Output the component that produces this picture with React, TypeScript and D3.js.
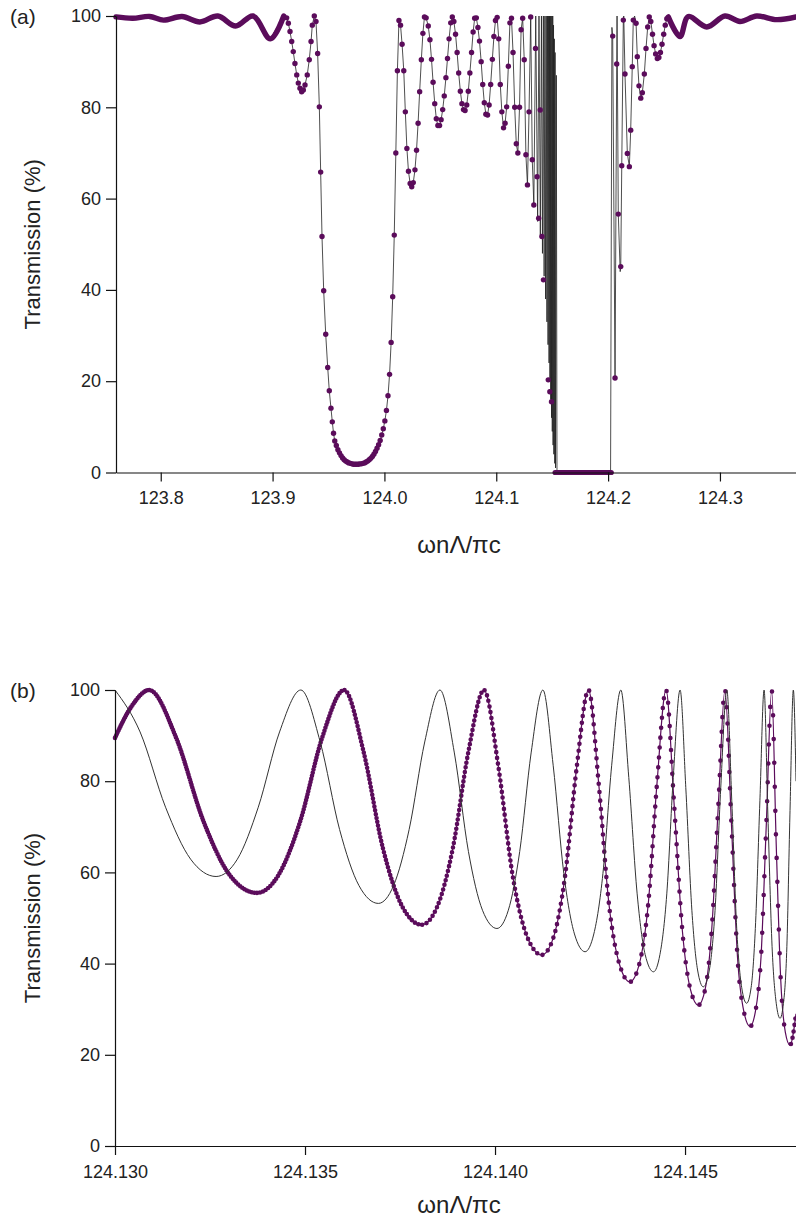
import { useEffect, useRef } from 'react';
import * as d3 from 'd3';

type Pt = [number, number];

const yTicks = [0, 20, 40, 60, 80, 100];
const aTicks = [123.8, 123.9, 124.0, 124.1, 124.2, 124.3];
const bTicks = [124.13, 124.135, 124.14, 124.145];

// (a) purple samples near 100 % on the left, so dense they read as one thick line
const aBandLeft: Pt[] = [
  [123.76, 99.8], [123.775, 99.5], [123.79, 99.9], [123.8025, 99.1], [123.819, 99.9],
  [123.835, 98.7], [123.851, 100], [123.867, 97.8], [123.8825, 100], [123.898, 95.0],
  [123.91, 100],
];

// (a) purple samples that show as separate dots
const aDots: Pt[] = [
  [123.9126, 99.6], [123.9141, 98.4], [123.9156, 96.6], [123.9171, 94.4], [123.9185, 92.2],
  [123.92, 89.6], [123.9216, 87.1], [123.923, 85.3], [123.9245, 84.2], [123.926, 83.4],
  [123.9275, 83.8], [123.929, 84.9], [123.931, 87.1], [123.9328, 90.4], [123.9344, 94.4],
  [123.9355, 98.0], [123.9373, 100], [123.9388, 98.8],
  [123.9403, 91.8], [123.9418, 80.1], [123.943, 65.8], [123.9442, 51.7], [123.9457, 39.8],
  [123.9475, 30.3], [123.9493, 23.0], [123.9507, 17.9], [123.9522, 14.1], [123.9534, 11.1],
  [123.9545, 8.6], [123.9556, 6.9], [123.957, 5.9], [123.9584, 5.0], [123.9598, 4.3],
  [123.9612, 3.7], [123.9626, 3.2], [123.964, 2.8], [123.9654, 2.5], [123.9668, 2.3],
  [123.9682, 2.1], [123.9696, 2.0], [123.971, 1.9], [123.9724, 1.8], [123.9738, 1.8],
  [123.9752, 1.8], [123.9766, 1.8], [123.978, 1.9], [123.9794, 1.9], [123.9808, 2.0],
  [123.9822, 2.1], [123.9836, 2.3], [123.985, 2.5], [123.9864, 2.8], [123.9878, 3.1],
  [123.9892, 3.5], [123.9906, 4.0], [123.992, 4.6], [123.9934, 5.3], [123.9948, 6.1],
  [123.9962, 7.0], [123.9976, 8.2], [123.999, 9.6],
  [124.0004, 11.3], [124.0018, 13.6], [124.0032, 16.8], [124.0046, 21.5], [124.006, 28.5],
  [124.0074, 38.5], [124.0088, 52.0], [124.0102, 70.0], [124.0116, 88.0], [124.013, 99.0],
  [124.0144, 98.0], [124.0158, 93.8], [124.0173, 88.0], [124.0187, 79.0], [124.0201, 71.0],
  [124.0215, 66.0], [124.023, 63.3], [124.0244, 62.6], [124.0258, 63.5], [124.0273, 66.3],
  [124.0287, 70.6], [124.0301, 76.5], [124.0315, 83.4], [124.033, 90.4], [124.0344, 96.2],
  [124.0358, 99.8], [124.0373, 99.6],
  [124.0392, 97.8], [124.0407, 94.8], [124.0421, 90.5], [124.0435, 85.5], [124.045, 80.8],
  [124.0464, 77.5], [124.0478, 76.0], [124.0493, 76.0], [124.0507, 77.3], [124.0521, 79.5],
  [124.0535, 82.5], [124.055, 86.5], [124.0564, 90.7], [124.0578, 95.0], [124.0593, 98.5],
  [124.0607, 99.8], [124.0621, 98.8], [124.0636, 96.0], [124.065, 92.0], [124.0664, 87.5],
  [124.0679, 83.5], [124.0693, 80.8], [124.0707, 79.5], [124.0721, 79.3], [124.0736, 80.5],
  [124.075, 83.5], [124.0764, 87.5], [124.0779, 92.0], [124.0793, 96.5], [124.0807, 99.5],
  [124.0822, 99.6], [124.0836, 97.5], [124.085, 94.5], [124.0865, 90.0], [124.0879, 85.0],
  [124.0893, 81.0], [124.0907, 78.5], [124.0922, 78.3], [124.0936, 80.5], [124.095, 85.0],
  [124.0965, 90.5], [124.0979, 95.5], [124.0993, 99.0], [124.1008, 99.7], [124.1022, 95.0],
  [124.1036, 85.0], [124.105, 79.0], [124.1065, 75.5], [124.1079, 76.5], [124.1093, 80.1],
  [124.1108, 89.0], [124.1122, 98.5], [124.1136, 99.5], [124.115, 92.0], [124.1165, 80.0],
  [124.1179, 72.0], [124.1193, 70.0], [124.1208, 80.0], [124.1222, 97.0], [124.1236, 99.5],
  [124.125, 90.4], [124.1265, 69.6], [124.1279, 63.0], [124.1293, 79.0], [124.1308, 99.8],
  [124.1322, 68.5], [124.1336, 58.6], [124.1351, 92.9], [124.1365, 64.8], [124.1379, 55.7],
  [124.1393, 79.4], [124.1408, 51.7], [124.1422, 42.2], [124.1465, 20.3], [124.1479, 17.7],
  [124.1494, 15.5],
  [124.2041, 95.6], [124.2062, 20.7], [124.2077, 89.5], [124.2091, 56.6], [124.2113, 45.1],
  [124.2122, 67.2], [124.2136, 99.1], [124.2151, 87.3], [124.2172, 69.9], [124.219, 67.0],
  [124.2202, 75.0], [124.2216, 88.9], [124.2225, 99.1], [124.225, 98.4], [124.2261, 91.1],
  [124.2276, 84.7], [124.2292, 82.0], [124.2306, 83.2], [124.2324, 87.3], [124.2339, 92.9],
  [124.2354, 97.6], [124.2368, 99.8], [124.2382, 98.8], [124.2397, 96.0], [124.2411, 93.5],
  [124.2425, 91.7], [124.244, 90.7], [124.2454, 90.9], [124.2468, 92.0], [124.2482, 93.8],
  [124.2497, 96.0], [124.2511, 98.0], [124.2525, 99.4],
];

// (a) purple samples lying on the zero line inside the stop band
const aZero: Pt[] = [[124.1526, 0], [124.2028, 0]];

// (a) purple samples near 100 % on the right
const aBandRight: Pt[] = [
  [124.2538, 99.8], [124.2643, 95.5], [124.2717, 99.9], [124.2882, 97.6], [124.3045, 100],
  [124.3179, 98.8], [124.3329, 100], [124.3508, 99.2], [124.368, 99.8],
];

// (a) black curve: extra points where it oscillates faster than the dots
const aBlackExtra: Pt[] = [
  [124.1353, 100], [124.137, 55], [124.1382, 100], [124.1394, 52], [124.1404, 100],
  [124.1413, 48], [124.1421, 100], [124.1428, 43], [124.1435, 100], [124.1441, 38],
  [124.1447, 100], [124.1453, 33], [124.1458, 100], [124.1463, 28], [124.1467, 100],
  [124.1472, 24], [124.1476, 100], [124.148, 20], [124.1483, 100], [124.1487, 16],
  [124.149, 100], [124.1494, 12], [124.1498, 100], [124.1501, 9], [124.1505, 100],
  [124.1508, 6], [124.1512, 98], [124.1515, 4], [124.1519, 95], [124.1523, 2],
  [124.1526, 92], [124.153, 1], [124.1537, 87], [124.1543, 0],
  [124.2022, 0], [124.2034, 97.5], [124.208, 100], [124.2108, 44], [124.214, 100],
  [124.2237, 100],
];

// (b) black curve
const bBlack: Pt[] = [
  [124.13, 100], [124.13066, 90.8], [124.13133, 74.3], [124.13199, 62.9], [124.13266, 59.1],
  [124.13322, 62.9], [124.13377, 74.3], [124.13433, 90.8], [124.13489, 100],
  [124.1354, 88.6], [124.13591, 69.4], [124.13642, 57.1], [124.13693, 53.2],
  [124.13733, 57.1], [124.13774, 69.4], [124.13815, 88.6], [124.13855, 100],
  [124.13893, 86.2], [124.1393, 64.6], [124.13967, 51.7], [124.14005, 47.7],
  [124.14035, 51.7], [124.14065, 64.6], [124.14095, 86.2], [124.14126, 100],
  [124.14153, 83.5], [124.14181, 59.8], [124.14209, 46.5], [124.14237, 42.6],
  [124.1426, 46.5], [124.14284, 59.8], [124.14307, 83.5], [124.14331, 100],
  [124.14352, 80.8], [124.14374, 55.3], [124.14395, 42.0], [124.14417, 38.2],
  [124.14434, 42.0], [124.14452, 55.3], [124.14469, 80.8], [124.14487, 100],
  [124.14502, 78.6], [124.14518, 51.7], [124.14533, 38.6], [124.14548, 34.9],
  [124.14564, 38.6], [124.14579, 51.7], [124.14594, 78.6], [124.1461, 100],
  [124.14623, 75.7], [124.14636, 47.7], [124.14649, 34.8], [124.14662, 31.3],
  [124.14674, 34.8], [124.14685, 47.7], [124.14697, 75.7], [124.14708, 100],
  [124.14718, 72.6], [124.14729, 43.8], [124.1474, 31.3], [124.1475, 28.0],
  [124.14759, 31.3], [124.14768, 43.8], [124.14776, 72.6], [124.14785, 100],
  [124.14792, 80],
];

// (b) purple dotted curve
const bPurple: Pt[] = [
  [124.13, 89.5], [124.13045, 96.6], [124.1309, 100],
  [124.13161, 89.5], [124.13232, 71.4], [124.13302, 59.4], [124.13373, 55.5],
  [124.1343, 59.4], [124.13488, 71.4], [124.13545, 89.5], [124.13603, 100],
  [124.13654, 86.5], [124.13705, 65.3], [124.13756, 52.5], [124.13807, 48.5],
  [124.13848, 52.5], [124.13889, 65.3], [124.1393, 86.5], [124.13971, 100],
  [124.14009, 83.1], [124.14047, 59.0], [124.14085, 45.8], [124.14123, 41.9],
  [124.14154, 45.8], [124.14184, 59.0], [124.14215, 83.1], [124.14246, 100],
  [124.14273, 79.3], [124.143, 52.9], [124.14328, 39.7], [124.14355, 36.0],
  [124.14379, 39.7], [124.14403, 52.9], [124.14426, 79.3], [124.1445, 100],
  [124.14471, 75.3], [124.14493, 47.2], [124.14514, 34.4], [124.14535, 30.9],
  [124.14553, 34.4], [124.1457, 47.2], [124.14588, 75.3], [124.14605, 100],
  [124.14622, 70.8], [124.14638, 41.5], [124.14655, 29.4], [124.14671, 26.2],
  [124.14685, 29.4], [124.147, 41.5], [124.14714, 70.8], [124.14728, 100],
  [124.1474, 66.0], [124.14752, 36.2], [124.14764, 24.9], [124.14776, 22.1],
  [124.14792, 29],
];

const PURPLE = '#5b0c5b';
const FONT = 'Liberation Sans, Arial, Helvetica, sans-serif';

export default function App() {
  const svgRef = useRef<SVGSVGElement>(null);

  useEffect(() => {
    const svg = d3.select(svgRef.current);
    svg.selectAll('*').remove();

    const xA = d3.scaleLinear().domain([123.76, 124.368]).range([116, 796]);
    const yA = d3.scaleLinear().domain([0, 100]).range([472.5, 16]);
    const xB = d3.scaleLinear().domain([124.13, 124.14792]).range([115, 796]);
    const yB = d3.scaleLinear().domain([0, 100]).range([1146, 690]);

    // axes, labels and titles for one panel
    const axes = (x: any, y: any, ticks: number[], fmt: string, tag: string, titleY: number) => {
      const y0 = y.range()[0];
      const y1 = y.range()[1];
      const x0 = x.range()[0];
      const gx = svg.append('g')
        .attr('transform', `translate(0,${y0})`)
        .call(d3.axisBottom(x).tickValues(ticks).tickFormat(d3.format(fmt) as any)
          .tickSize(9).tickSizeOuter(0).tickPadding(10));
      const gy = svg.append('g')
        .attr('transform', `translate(${x0},0)`)
        .call(d3.axisLeft(y).tickValues(yTicks).tickSize(10).tickSizeOuter(0).tickPadding(5));
      [gx, gy].forEach(g => {
        g.attr('font-size', 18).attr('font-family', FONT);
        g.selectAll('path, line').attr('stroke', '#111').attr('stroke-width', 1.2);
        g.selectAll('text').attr('fill', '#222');
      });

      svg.append('text')
        .attr('x', 459).attr('y', titleY)
        .attr('text-anchor', 'middle')
        .attr('font-family', FONT).attr('font-size', 24).attr('fill', '#222')
        .text('ωnΛ/πc');

      svg.append('text')
        .attr('transform', `translate(40,${(y0 + y1) / 2}) rotate(-90)`)
        .attr('text-anchor', 'middle')
        .attr('font-family', FONT).attr('font-size', 22).attr('fill', '#222')
        .text('Transmission (%)');

      svg.append('text')
        .attr('x', 10).attr('y', y1 + 8)
        .attr('font-family', FONT).attr('font-size', 21).attr('fill', '#222')
        .text(tag);
    };

    // ---------- panel (a) ----------
    const lineA = d3.line<Pt>().x(d => xA(d[0])).y(d => yA(d[1]));

    const blackA = [
      ...aBandLeft,
      ...aDots.filter(d => d[0] < 124.1345 || d[0] > 124.203),
      ...aBlackExtra,
      ...aBandRight,
    ].sort((p, q) => p[0] - q[0]);

    svg.append('path')
      .attr('d', lineA(blackA))
      .attr('fill', 'none')
      .attr('stroke', '#222')
      .attr('stroke-width', 0.8);

    [aBandLeft, aBandRight].forEach(band => {
      svg.append('path')
        .attr('d', lineA.curve(d3.curveCatmullRom)(band))
        .attr('fill', 'none')
        .attr('stroke', PURPLE)
        .attr('stroke-width', 5.4)
        .attr('stroke-linecap', 'round')
        .attr('stroke-linejoin', 'round');
    });
    lineA.curve(d3.curveLinear);

    svg.append('path')
      .attr('d', lineA(aZero))
      .attr('fill', 'none')
      .attr('stroke', PURPLE)
      .attr('stroke-width', 5.2)
      .attr('stroke-linecap', 'round');

    svg.append('g')
      .selectAll('circle')
      .data(aDots)
      .enter()
      .append('circle')
      .attr('cx', d => xA(d[0]))
      .attr('cy', d => yA(d[1]))
      .attr('r', 2.7)
      .attr('fill', PURPLE);

    axes(xA, yA, aTicks, '.1f', '(a)', 553);

    // ---------- panel (b) ----------
    const lineB = d3.line<Pt>().x(d => xB(d[0])).y(d => yB(d[1])).curve(d3.curveMonotoneX);

    svg.append('path')
      .attr('d', lineB(bPurple))
      .attr('fill', 'none')
      .attr('stroke', PURPLE)
      .attr('stroke-width', 1.2);

    const dotted = svg.append('path')
      .attr('d', lineB(bPurple))
      .attr('fill', 'none')
      .attr('stroke', PURPLE)
      .attr('stroke-width', 4.6)
      .attr('stroke-linecap', 'round');

    // dots are spaced evenly in frequency, so spread them per half period
    const node = dotted.node() as SVGPathElement;
    const total = node.getTotalLength();
    const lenAt = (px: number) => {
      let lo = 0;
      let hi = total;
      for (let k = 0; k < 30; k++) {
        const m = (lo + hi) / 2;
        if (node.getPointAtLength(m).x < px) lo = m; else hi = m;
      }
      return (lo + hi) / 2;
    };
    const ext = bPurple.filter((d, i, a) =>
      i === 0 || i === a.length - 1 || (d[1] - a[i - 1][1]) * (a[i + 1][1] - d[1]) < 0);
    const dash: number[] = [];
    for (let i = 0; i < ext.length - 1; i++) {
      const p0 = xB(ext[i][0]);
      const p1 = xB(ext[i + 1][0]);
      const L0 = i === 0 ? 0 : lenAt(p0);
      const L1 = i === ext.length - 2 ? total : lenAt(p1);
      const n = Math.max(1, Math.round((p1 - p0) / 1.2));
      for (let k = 0; k < n; k++) dash.push(0, (L1 - L0) / n);
    }
    dash.push(0, 2000);
    dotted.attr('stroke-dasharray', dash.map(v => v.toFixed(3)).join(' '));

    svg.append('path')
      .attr('d', lineB(bBlack))
      .attr('fill', 'none')
      .attr('stroke', '#333')
      .attr('stroke-width', 1);

    axes(xB, yB, bTicks, '.3f', '(b)', 1213);
  }, []);

  return (
    <svg
      ref={svgRef}
      width={796}
      height={1224}
      style={{ position: 'absolute', left: 0, top: 0, background: '#fff' }}
    />
  );
}
